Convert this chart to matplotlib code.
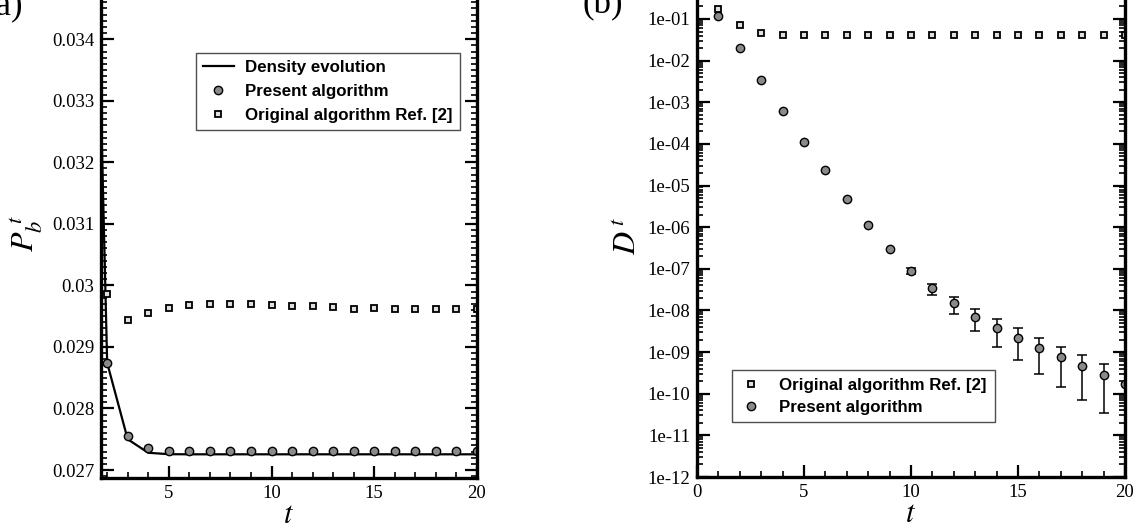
import numpy as np
import matplotlib
matplotlib.use("Agg")
import matplotlib.pyplot as plt
from matplotlib.ticker import MultipleLocator, FuncFormatter, LogLocator, NullFormatter

plt.rcParams['font.family'] = ['Liberation Serif', 'DejaVu Serif']
plt.rcParams['mathtext.fontset'] = 'stix'

# ---------------- data: panel (a) ----------------
t_de = [1, 2, 3, 4, 5, 6, 7, 8, 9, 10, 11, 12, 13, 14, 15, 16, 17, 18, 19, 20]
pb_density = [0.0425, 0.02874, 0.02750, 0.02728, 0.027257, 0.027255, 0.027255, 0.027255,
              0.027255, 0.027255, 0.027255, 0.027255, 0.027255, 0.027255, 0.027255,
              0.027255, 0.027255, 0.027255, 0.027255, 0.027255]
t_a = [2, 3, 4, 5, 6, 7, 8, 9, 10, 11, 12, 13, 14, 15, 16, 17, 18, 19, 20]
pb_present = [0.02874, 0.027546, 0.02735, 0.027311, 0.027311, 0.027311, 0.027311, 0.027311,
              0.027311, 0.027311, 0.027311, 0.027311, 0.027311, 0.027311, 0.027311,
              0.027311, 0.027311, 0.027311, 0.027311]
pb_original = [0.02986, 0.029443, 0.029552, 0.029634, 0.029677, 0.029705, 0.029693, 0.029705,
               0.029689, 0.029667, 0.029667, 0.02965, 0.029623, 0.029628, 0.029612,
               0.029612, 0.029612, 0.029612, 0.02961]

# ---------------- data: panel (b) ----------------
t_b = [1, 2, 3, 4, 5, 6, 7, 8, 9, 10, 11, 12, 13, 14, 15, 16, 17, 18, 19, 20]
d_original = [0.174, 0.0718, 0.047, 0.042, 0.041, 0.041, 0.041, 0.041, 0.041, 0.041,
              0.041, 0.041, 0.041, 0.0405, 0.0405, 0.0405, 0.0405, 0.0405, 0.0405, 0.041]
d_present = [0.12, 0.0201, 0.00342, 6.0e-4, 1.14e-4, 2.3e-5, 4.8e-6, 1.1e-6, 3.0e-7, 8.9e-8,
             3.4e-8, 1.48e-8, 7.1e-9, 3.8e-9, 2.14e-9, 1.28e-9, 7.5e-10, 4.7e-10, 2.8e-10, 1.73e-10]
d_present_lo = [0.12, 0.0201, 0.00342, 6.0e-4, 1.14e-4, 2.3e-5, 4.8e-6, 1.1e-6, 3.0e-7, 7.6e-8,
                2.3e-8, 8.1e-9, 3.2e-9, 1.35e-9, 6.3e-10, 2.95e-10, 1.44e-10, 6.9e-11, 3.4e-11, 1.73e-10]
d_present_hi = [0.12, 0.0201, 0.00342, 6.0e-4, 1.14e-4, 2.3e-5, 4.8e-6, 1.1e-6, 3.0e-7, 1.02e-7,
                4.4e-8, 2.1e-8, 1.11e-8, 6.4e-9, 3.7e-9, 2.2e-9, 1.35e-9, 8.5e-10, 5.2e-10, 1.73e-10]

W, H = 1135, 528
fig = plt.figure(figsize=(W / 100, H / 100), dpi=100)

def px_axes(l, r, b, t):
    return fig.add_axes([l / W, (H - b) / H, (r - l) / W, (b - t) / H])

axA = px_axes(101, 477, 478, -10)
axB = px_axes(697, 1125, 477, -6)

circ_kw = dict(marker='o', ms=6, mfc='#8a8a8a', mec='black', mew=1.0, ls='none')
sq_kw = dict(marker='s', ms=5, mfc='#e0e0e0', mec='black', mew=1.3, ls='none')

for ax in (axA, axB):
    for s in ax.spines.values():
        s.set_linewidth(2.4)
    ax.tick_params(which='both', direction='in', top=False, right=True,
                   labelsize=13.5, pad=5)
    ax.tick_params(which='major', length=9, width=1.6)
    ax.tick_params(which='minor', length=4.5, width=1.2)

leg_font = dict(family='Liberation Sans', weight='bold', size=12.2)

# ---- panel (a)
axA.plot(t_de, pb_density, color='black', lw=1.6, label='Density evolution')
axA.plot(t_a, pb_present, label='Present algorithm', **circ_kw)
axA.plot(t_a, pb_original, label='Original algorithm Ref. [2]', **sq_kw)
axA.set_xlim(1.7, 20)
axA.set_ylim(0.02687, 0.0348)
axA.xaxis.set_major_locator(MultipleLocator(5))
axA.xaxis.set_minor_locator(MultipleLocator(1))
axA.yaxis.set_major_locator(MultipleLocator(0.001))
axA.yaxis.set_minor_locator(MultipleLocator(0.0001))
axA.yaxis.set_major_formatter(FuncFormatter(lambda v, p: f"{v:g}"))
axA.set_xlabel('$t$', fontsize=22, labelpad=-1)
axA.set_ylabel(r'$P_b^{\ t}$', fontsize=23, labelpad=5)
legA = axA.legend(loc='upper left', bbox_to_anchor=(196 / W, (H - 53) / H),
                  bbox_transform=fig.transFigure, prop=leg_font,
                  frameon=True, fancybox=False, edgecolor='#222222', borderaxespad=0,
                  handlelength=1.8, handletextpad=0.7, labelspacing=0.52, borderpad=0.42)
legA.get_frame().set_linewidth(1.0)
fig.text(23 / W, (H - 14) / H, '(a)', fontsize=25, ha='right', va='baseline')

# ---- panel (b)
yp = np.array(d_present)
yerr = [yp - np.array(d_present_lo), np.array(d_present_hi) - yp]
axB.errorbar(t_b[9:19], yp[9:19], yerr=[yerr[0][9:19], yerr[1][9:19]], fmt='none',
             ecolor='black', elinewidth=1.1, capsize=3.5, capthick=1.1)
axB.plot(t_b, d_original, label='Original algorithm Ref. [2]', **sq_kw)
axB.plot(t_b, d_present, label='Present algorithm', **circ_kw)
axB.set_yscale('log')
axB.set_xlim(0, 20)
axB.set_ylim(1e-12, 10 ** -0.4)
axB.xaxis.set_major_locator(MultipleLocator(5))
axB.xaxis.set_minor_locator(MultipleLocator(1))
axB.yaxis.set_major_locator(LogLocator(base=10, numticks=30))
axB.yaxis.set_minor_locator(LogLocator(base=10, subs=np.arange(2, 10), numticks=30))
axB.yaxis.set_minor_formatter(NullFormatter())
axB.yaxis.set_major_formatter(FuncFormatter(lambda v, p: f"{v:.0e}"))
axB.set_xlabel('$t$', fontsize=22, labelpad=-1)
axB.set_ylabel(r'$D^{\,t}$', fontsize=23, labelpad=3)
legB = axB.legend(loc='upper left', bbox_to_anchor=(732 / W, (H - 370) / H),
                  bbox_transform=fig.transFigure, prop=leg_font,
                  frameon=True, fancybox=False, edgecolor='#222222', borderaxespad=0,
                  handlelength=1.4, handletextpad=0.95, labelspacing=0.42, borderpad=0.45)
legB.get_frame().set_linewidth(1.0)
fig.text(583 / W, (H - 13) / H, '(b)', fontsize=25, ha='left', va='baseline')

fig.savefig('out.png', dpi=100)
